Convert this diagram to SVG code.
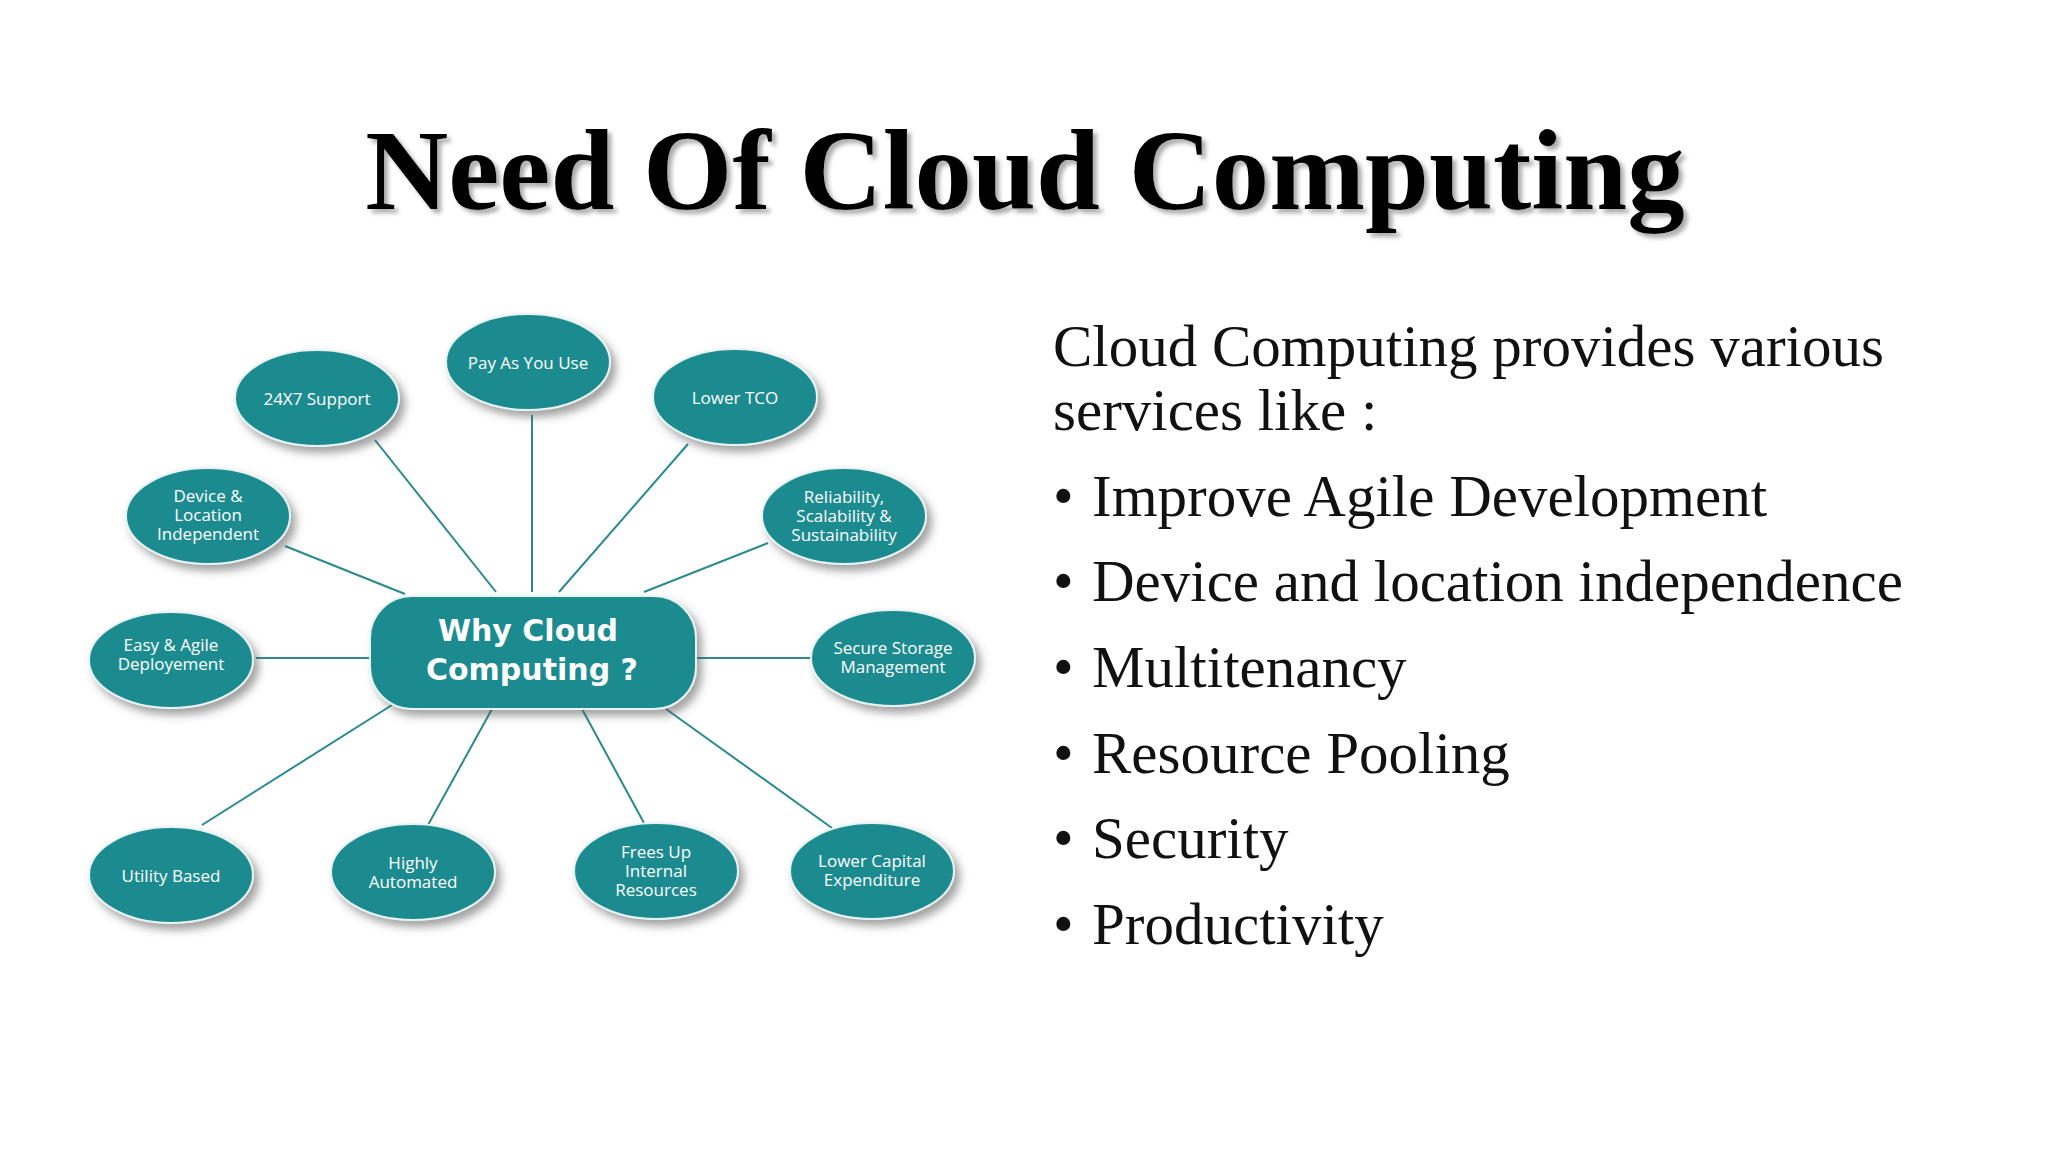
<svg xmlns="http://www.w3.org/2000/svg" width="2048" height="1152" viewBox="0 0 2048 1152">
<defs>
<filter id="sh" x="-30%" y="-30%" width="160%" height="160%"><feDropShadow dx="5" dy="6" stdDeviation="4" flood-color="#555" flood-opacity="0.55"/></filter>
<filter id="ts" x="-5%" y="-20%" width="110%" height="140%"><feDropShadow dx="4" dy="4" stdDeviation="2" flood-color="#888" flood-opacity="0.7"/></filter>
<style>
.n{fill:#1e8b90;stroke:#e8f4f4;stroke-width:2;filter:url(#sh)}
.t{fill:#fff;font-family:"Open Sans","DejaVu Sans",sans-serif;font-size:17px;text-anchor:middle}
.c{stroke:#2a8a8e;stroke-width:2;fill:none}
.r{font-family:"Liberation Serif",serif;font-size:59px;fill:#111}
</style>
</defs>
<rect width="2048" height="1152" fill="#fff"/>
<text x="1025" y="209" text-anchor="middle" font-family="Liberation Serif,serif" font-weight="bold" font-size="115" fill="#000" filter="url(#ts)">Need Of Cloud Computing</text>
<g id="connectors">
<line class="c" x1="375" y1="440" x2="496" y2="592"/>
<line class="c" x1="532" y1="415" x2="532" y2="592"/>
<line class="c" x1="688" y1="444" x2="559" y2="592"/>
<line class="c" x1="285" y1="546" x2="405" y2="594"/>
<line class="c" x1="768" y1="543" x2="644" y2="592"/>
<line class="c" x1="256" y1="658" x2="370" y2="658"/>
<line class="c" x1="696" y1="658" x2="810" y2="658"/>
<line class="c" x1="202" y1="825" x2="392" y2="705"/>
<line class="c" x1="428" y1="825" x2="492" y2="709"/>
<line class="c" x1="644" y1="823" x2="582" y2="709"/>
<line class="c" x1="832" y1="828" x2="666" y2="709"/>
</g>
<g id="center"><rect class="n" x="370" y="596" width="326" height="113" rx="42"/>
<text x="528" y="641" text-anchor="middle" font-family="DejaVu Sans,sans-serif" font-weight="bold" font-size="30" fill="#fff">Why Cloud</text>
<text x="532" y="680" text-anchor="middle" font-family="DejaVu Sans,sans-serif" font-weight="bold" font-size="30" fill="#fff">Computing ?</text></g>
<g id="n1"><ellipse class="n" cx="317" cy="398" rx="82" ry="48"/><text class="t" x="317" y="405">24X7 Support</text></g>
<g id="n2"><ellipse class="n" cx="528" cy="362" rx="82" ry="48"/><text class="t" x="528" y="369">Pay As You Use</text></g>
<g id="n3"><ellipse class="n" cx="735" cy="397" rx="82" ry="48"/><text class="t" x="735" y="404">Lower TCO</text></g>
<g id="n4"><ellipse class="n" cx="208" cy="516" rx="82" ry="48"/><text class="t" x="208" y="502">Device &amp;</text><text class="t" x="208" y="521">Location</text><text class="t" x="208" y="540">Independent</text></g>
<g id="n5"><ellipse class="n" cx="844" cy="516" rx="82" ry="48"/><text class="t" x="844" y="503">Reliability,</text><text class="t" x="844" y="522">Scalability &amp;</text><text class="t" x="844" y="541">Sustainability</text></g>
<g id="n6"><ellipse class="n" cx="171" cy="660" rx="82" ry="48"/><text class="t" x="171" y="651">Easy &amp; Agile</text><text class="t" x="171" y="670">Deployement</text></g>
<g id="n7"><ellipse class="n" cx="893" cy="658" rx="82" ry="48"/><text class="t" x="893" y="654">Secure Storage</text><text class="t" x="893" y="673">Management</text></g>
<g id="n8"><ellipse class="n" cx="171" cy="875" rx="82" ry="48"/><text class="t" x="171" y="882">Utility Based</text></g>
<g id="n9"><ellipse class="n" cx="413" cy="872" rx="82" ry="48"/><text class="t" x="413" y="869">Highly</text><text class="t" x="413" y="888">Automated</text></g>
<g id="n10"><ellipse class="n" cx="656" cy="871" rx="82" ry="48"/><text class="t" x="656" y="858">Frees Up</text><text class="t" x="656" y="877">Internal</text><text class="t" x="656" y="896">Resources</text></g>
<g id="n11"><ellipse class="n" cx="872" cy="871" rx="82" ry="48"/><text class="t" x="872" y="867">Lower Capital</text><text class="t" x="872" y="886">Expenditure</text></g>
<g id="text">
<text class="r" x="1053" y="366">Cloud Computing provides various</text>
<text class="r" x="1053" y="430">services like :</text>
<text class="r" x="1053" y="516">•</text><text class="r" x="1092" y="516">Improve Agile Development</text>
<text class="r" x="1053" y="601">•</text><text class="r" x="1092" y="601">Device and location independence</text>
<text class="r" x="1053" y="687">•</text><text class="r" x="1092" y="687">Multitenancy</text>
<text class="r" x="1053" y="773">•</text><text class="r" x="1092" y="773">Resource Pooling</text>
<text class="r" x="1053" y="858">•</text><text class="r" x="1092" y="858">Security</text>
<text class="r" x="1053" y="944">•</text><text class="r" x="1092" y="944">Productivity</text>
</g>
</svg>
